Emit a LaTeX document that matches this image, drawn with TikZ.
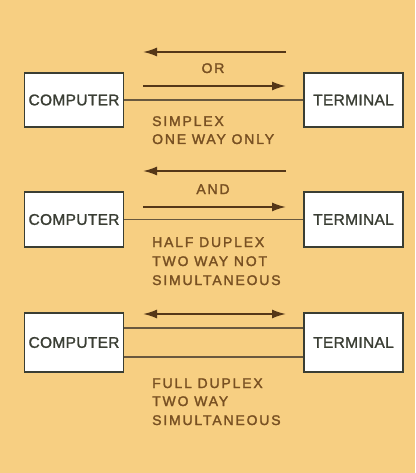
\documentclass[tikz,border=0pt]{standalone}
\usepackage{fontspec}
\setmainfont{Liberation Sans}
\newfontfamily\boxfont[FakeBold=1.3,LetterSpace=2]{Liberation Sans}
\newfontfamily\spacedfont[FakeBold=1.8,LetterSpace=13]{Liberation Sans}
\usetikzlibrary{arrows.meta}
\definecolor{paper}{RGB}{247,207,130}
\definecolor{boxtext}{RGB}{58,62,52}
\definecolor{captext}{RGB}{120,80,34}
\definecolor{arrowcol}{RGB}{85,55,24}
\definecolor{wirecol}{RGB}{105,88,62}

\begin{document}
\begin{tikzpicture}[x=1pt,y=-1pt,
  unit/.style={draw=boxtext,line width=1.6pt,fill=white,minimum width=99pt,
    minimum height=54pt,inner sep=0pt,text=boxtext,font=\boxfont\fontsize{15.5}{18}\selectfont},
  caption/.style={inner sep=0pt,anchor=base west,text=captext,
    font=\spacedfont\fontsize{14}{16}\selectfont},
  word/.style={caption,anchor=base},
  flow/.style={draw=arrowcol,line width=1.8pt,-{Latex[length=14pt,width=9pt]}},
  wire/.style={draw=wirecol,line width=1.2pt}]

\fill[paper] (0,0) rectangle (415,473);
\useasboundingbox (0,0) rectangle (415,473);

% simplex
\node[unit] (comp1) at (74,100) {COMPUTER};
\node[unit] (term1) at (353.5,100) {TERMINAL};
\draw[wire] (comp1) -- (term1);
\coordinate (s1l) at (143,52);
\coordinate (s1r) at (286,52);
\coordinate (s2l) at (143,86);
\coordinate (s2r) at (286,86);
\draw[flow] (s1r) -- (s1l);
\draw[flow] (s2l) -- (s2r);
\node[word] (or) at (213,73) {OR};
\node[caption] (cap1a) at (152,126) {SIMPLEX};
\node[caption] (cap1b) at (152,144) {ONE WAY ONLY};

% half duplex
\node[unit,minimum height=55pt] (comp2) at (74,219.5) {COMPUTER};
\node[unit,minimum height=55pt] (term2) at (353.5,219.5) {TERMINAL};
\draw[wire] (comp2) -- (term2);
\coordinate (h1l) at (143,171);
\coordinate (h1r) at (286,171);
\coordinate (h2l) at (143,207);
\coordinate (h2r) at (286,207);
\draw[flow] (h1r) -- (h1l);
\draw[flow] (h2l) -- (h2r);
\node[word] (and) at (213,194) {AND};
\node[caption] (cap2a) at (152,247) {HALF DUPLEX};
\node[caption] (cap2b) at (152,266) {TWO WAY NOT};
\node[caption] (cap2c) at (152,285) {SIMULTANEOUS};

% full duplex
\node[unit,minimum height=59pt] (comp3) at (74,342.5) {COMPUTER};
\node[unit,minimum height=59pt] (term3) at (353.5,342.5) {TERMINAL};
\draw[wire] ([yshift=14.5pt]comp3.east) -- ([yshift=14.5pt]term3.west);
\draw[wire] ([yshift=-14.5pt]comp3.east) -- ([yshift=-14.5pt]term3.west);
\coordinate (f1l) at (143,314);
\coordinate (f1r) at (286,314);
\draw[flow,{Latex[length=14pt,width=9pt]}-{Latex[length=14pt,width=9pt]}] (f1l) -- (f1r);
\node[caption] (cap3a) at (152,388) {FULL DUPLEX};
\node[caption] (cap3b) at (152,406) {TWO WAY};
\node[caption] (cap3c) at (152,425) {SIMULTANEOUS};
\end{tikzpicture}
\end{document}
